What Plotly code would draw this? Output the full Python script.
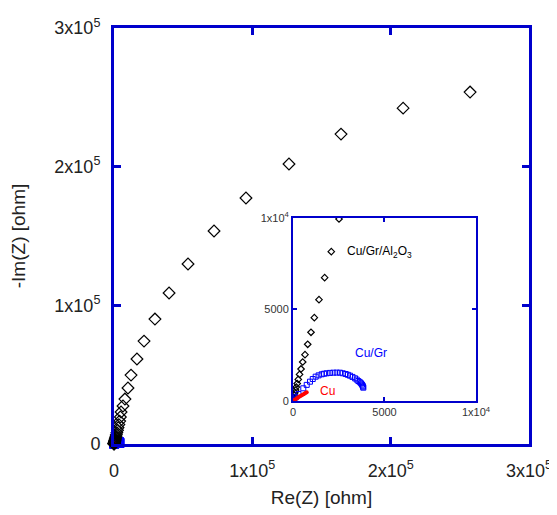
import plotly.graph_objects as go

# Cu/Gr/Al2O3 (open diamonds)
al_x = [10, 25, 45, 70, 100, 140, 180, 230, 290, 360, 440, 530, 656, 803, 984, 1166, 1421, 1730, 2093, 2514,
        2950, 3500, 4100, 4600, 5100, 6500, 7900, 10100, 12300, 16600, 21700, 29600, 39800, 53500, 72300,
        95400, 126500, 164100, 209000, 257400]
al_y = [40, 100, 200, 320, 450, 600, 760, 950, 1180, 1450, 1750, 2131, 2530, 3098, 3754, 4552, 5537, 6740, 8158, 9945,
        11800, 14000, 16500, 19500, 23100, 27400, 32400, 40400, 49700, 61300, 74200, 90100, 108900, 129800, 153600,
        177400, 201900, 223500, 242200, 253800]

# Cu/Gr (open squares)
gr_x = [60, 150, 300, 563, 750, 929, 1080, 1240, 1400, 1568, 1700, 1842, 2020, 2204, 2390, 2568, 2720, 2878, 3000,
        3115, 3250, 3388, 3480, 3570, 3650, 3716, 3770, 3807, 3830, 3843]
gr_y = [80, 200, 380, 694, 880, 1055, 1200, 1328, 1400, 1459, 1490, 1514, 1535, 1547, 1550, 1547, 1515, 1475, 1430,
        1383, 1315, 1240, 1170, 1093, 1030, 967, 900, 836, 780, 727]

# Cu (filled red)
cu_x = [20, 50, 100, 160, 220, 280, 340, 400, 460, 520, 580, 640, 700, 750]
cu_y = [15, 35, 70, 110, 150, 190, 230, 270, 305, 340, 375, 410, 445, 475]

main_ticks = [0, 1e5, 2e5, 3e5]
main_ticktext = ["0", "1x10<sup>5</sup>", "2x10<sup>5</sup>", "3x10<sup>5</sup>"]
inset_ticks = [0, 5000, 10000]
inset_ticktext = ["0", "5000", "1x10<sup>4</sup>"]

BLUE = "#0000CC"
FONT = "Liberation Sans, Arial, sans-serif"

fig = go.Figure()

# main plot
fig.add_trace(go.Scatter(x=gr_x, y=gr_y, mode="markers", xaxis="x", yaxis="y", cliponaxis=False,
                         marker=dict(symbol="square", size=9, color="blue", line=dict(width=1, color="blue"))))
fig.add_trace(go.Scatter(x=cu_x, y=cu_y, mode="markers", xaxis="x", yaxis="y", cliponaxis=False,
                         marker=dict(symbol="circle", size=4, color="red")))
fig.add_trace(go.Scatter(x=al_x, y=al_y, mode="markers", xaxis="x", yaxis="y", cliponaxis=False,
                         marker=dict(symbol="diamond-open", size=9, color="black", line=dict(width=1.2))))

# inset
fig.add_trace(go.Scatter(x=al_x, y=al_y, mode="markers", xaxis="x2", yaxis="y2",
                         marker=dict(symbol="diamond-open", size=5, color="black", line=dict(width=1.2))))
fig.add_trace(go.Scatter(x=gr_x, y=gr_y, mode="markers", xaxis="x2", yaxis="y2",
                         marker=dict(symbol="square-open", size=5, color="blue", line=dict(width=1))))
fig.add_trace(go.Scatter(x=cu_x, y=cu_y, mode="markers", xaxis="x2", yaxis="y2",
                         marker=dict(symbol="circle", size=4, color="red")))

axis_common = dict(showline=True, linecolor=BLUE, linewidth=3, mirror="ticks", ticks="inside",
                   tickcolor=BLUE, tickwidth=3, showgrid=False, zeroline=False, automargin=False)

fig.update_layout(
    width=549, height=507,
    margin=dict(l=106, r=28, t=20, b=71),
    paper_bgcolor="white", plot_bgcolor="white",
    showlegend=False,
    font=dict(family=FONT, color="#222"),
    xaxis=dict(range=[0, 3e5], tickvals=main_ticks, ticktext=main_ticktext, ticklen=7,
               tickfont=dict(size=18, color="#222"), ticklabelstandoff=8,
               title=dict(text="Re(Z) [ohm]", font=dict(size=19, color="#222"), standoff=12),
               domain=[0, 1], **axis_common),
    yaxis=dict(range=[0, 3e5], tickvals=main_ticks, ticktext=main_ticktext, ticklen=7,
               tickfont=dict(size=18, color="#222"), ticklabelstandoff=7,
               title=dict(text="-Im(Z) [ohm]", font=dict(size=19, color="#222"), standoff=26),
               domain=[0, 1], **axis_common),
    xaxis2=dict(range=[0, 1e4], tickvals=inset_ticks, ticktext=inset_ticktext, ticklen=4,
                tickfont=dict(size=11, color="#333"), anchor="y2",
                domain=[0.4313, 0.8723], **{**axis_common, "linewidth": 2, "tickwidth": 2}),
    yaxis2=dict(range=[0, 1e4], tickvals=inset_ticks, ticktext=inset_ticktext, ticklen=4,
                tickfont=dict(size=11, color="#333"), anchor="x2",
                domain=[0.1034, 0.5433], **{**axis_common, "linewidth": 2, "tickwidth": 2}),
)

fig.add_annotation(x=2842, y=8142, xref="x2", yref="y2", xanchor="left", showarrow=False,
                   text="Cu/Gr/Al<sub>2</sub>O<sub>3</sub>", font=dict(size=12, color="black"))
fig.add_annotation(x=3279, y=2640, xref="x2", yref="y2", xanchor="left", showarrow=False,
                   text="Cu/Gr", font=dict(size=12, color="blue"))
fig.add_annotation(x=1366, y=563, xref="x2", yref="y2", xanchor="left", showarrow=False,
                   text="Cu", font=dict(size=12, color="red"))

fig.write_html("out.html")
